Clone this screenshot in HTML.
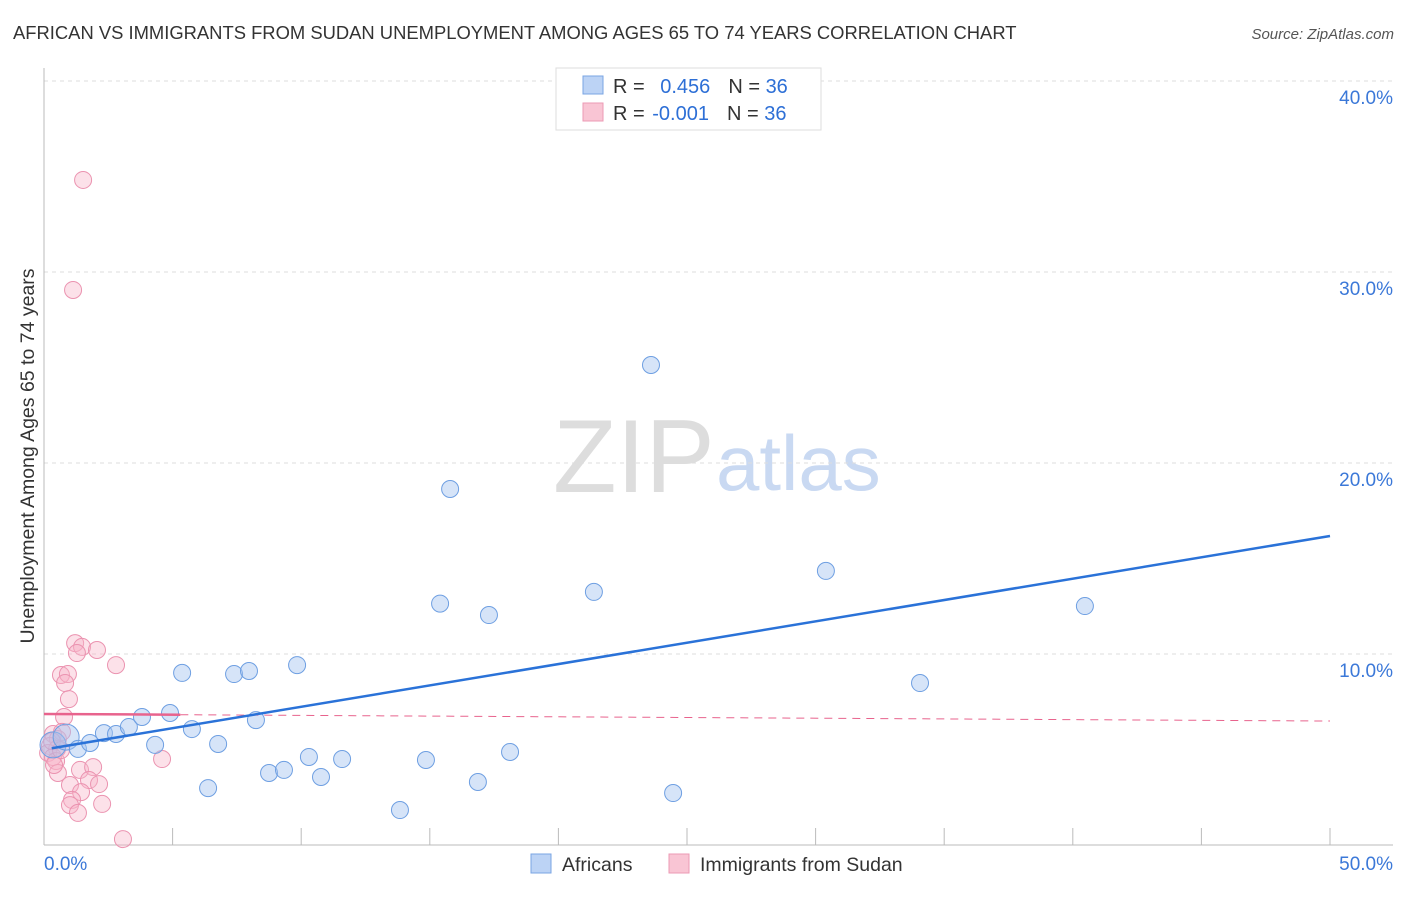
<!DOCTYPE html>
<html><head><meta charset="utf-8"><style>
body{margin:0;background:#fff;font-family:"Liberation Sans",sans-serif;}
svg text{font-family:"Liberation Sans",sans-serif;}
</style></head><body>
<svg id="c" width="1406" height="892">
<text x="13" y="39" font-size="18.4" fill="#333">AFRICAN VS IMMIGRANTS FROM SUDAN UNEMPLOYMENT AMONG AGES 65 TO 74 YEARS CORRELATION CHART</text>
<text x="1394" y="39" font-size="15" fill="#555" font-style="italic" text-anchor="end">Source: ZipAtlas.com</text>
<text x="34" y="456" font-size="19.5" fill="#333" text-anchor="middle" transform="rotate(-90 34 456)">Unemployment Among Ages 65 to 74 years</text>
<text x="553" y="492" font-size="104" fill="#ddd" font-family="Liberation Serif">ZIP</text>
<text x="716" y="490" font-size="78" fill="#c9d9f2">atlas</text>
<g id="axes"></g>
<g id="pts"></g>
<g id="legend">
<rect x="556" y="68" width="265" height="62" fill="#fff" stroke="#ddd"/>
<rect x="583" y="76" width="20" height="18" fill="#bcd3f5" stroke="#7aa5e3"/>
<rect x="583" y="103" width="20" height="18" fill="#f9c5d4" stroke="#ec9ab4"/>
<text x="613" y="93" font-size="20" fill="#333">R = <tspan fill="#2d6fd6" dx="10">0.456</tspan><tspan dx="18" fill="#333">N = </tspan><tspan fill="#2d6fd6">36</tspan></text>
<text x="613" y="120" font-size="20" fill="#333">R = <tspan fill="#2d6fd6" dx="2">-0.001</tspan><tspan dx="18" fill="#333">N = </tspan><tspan fill="#2d6fd6">36</tspan></text>
</g>
<g>
<rect x="531" y="854" width="20" height="19" fill="#bcd3f5" stroke="#7aa5e3"/>
<text x="562" y="871" font-size="19.5" fill="#333">Africans</text>
<rect x="669" y="854" width="20" height="19" fill="#f9c5d4" stroke="#ec9ab4"/>
<text x="700" y="871" font-size="19.5" fill="#333">Immigrants from Sudan</text>
</g>
</svg>
<script>
const blueX=[0.35,0.86,1.32,1.79,2.33,2.80,3.30,3.81,4.32,4.90,5.37,5.75,6.38,6.77,7.39,7.97,8.24,8.75,9.33,9.84,10.30,10.77,11.59,13.84,14.85,15.40,15.79,16.87,17.30,18.12,21.38,23.60,24.46,30.40,34.06,40.47];
const blueY=[5.24,5.65,5.03,5.34,5.86,5.81,6.18,6.70,5.24,6.91,9.01,6.07,2.98,5.29,8.95,9.11,6.54,3.77,3.93,9.42,4.61,3.56,4.50,1.83,4.45,12.64,18.64,3.30,12.04,4.87,13.25,25.13,2.72,14.35,8.48,12.51];
const pinkX=[1.52,1.13,1.21,1.48,1.28,2.06,2.80,0.66,0.93,0.82,0.97,0.78,0.35,0.54,0.23,0.51,0.16,0.35,0.47,0.54,4.59,1.40,1.91,1.75,2.14,1.01,1.44,1.09,1.01,2.26,1.32,3.07,0.70,0.31,0.66,0.39];
const pinkY=[34.82,29.06,10.57,10.37,10.05,10.21,9.42,8.90,8.95,8.48,7.64,6.70,5.81,5.55,5.18,5.03,4.82,4.61,4.40,3.77,4.50,3.93,4.08,3.40,3.19,3.14,2.77,2.36,2.09,2.15,1.68,0.31,5.92,5.44,4.97,4.19];
const blueTrend=[5.0,16.18];
const pinkTrend=[6.86,6.49];
const yTicks=[10,20,30,40];
const yTickLabels=["10.0%","20.0%","30.0%","40.0%"];
const xLabels=["0.0%","50.0%"];
const NS="http://www.w3.org/2000/svg";
const sx=v=>44+v*25.72, sy=v=>845-v*19.1;
function mk(t,a,p){const e=document.createElementNS(NS,t);for(const k in a)e.setAttribute(k,a[k]);p.appendChild(e);return e;}
const ax=document.getElementById('axes'), pts=document.getElementById('pts');
yTicks.forEach((t,i)=>{
 const g=mk('line',{x1:44,x2:1393,y1:sy(t),y2:sy(t),stroke:'#ddd','stroke-dasharray':'4,4'},ax);
 
 
 const l=mk('text',{x:1393,y:sy(t)+23,'font-size':19,fill:'#3b78d8','text-anchor':'end'},ax);l.textContent=yTickLabels[i];
 
 
});
const yl=mk('line',{x1:44,x2:44,y1:68,y2:845,stroke:'#bbb'},ax);


const xl=mk('line',{x1:44,x2:1393,y1:845,y2:845,stroke:'#bbb'},ax);


for(let v=5;v<=50;v+=5){const t=mk('line',{x1:sx(v),x2:sx(v),y1:828,y2:845,stroke:'#bbb'},ax);
 
 }
const xl0=mk('text',{x:44,y:870,'font-size':19,fill:'#3b78d8'},ax);xl0.textContent=xLabels[0];


const xl1=mk('text',{x:1393,y:870,'font-size':19,fill:'#3b78d8','text-anchor':'end'},ax);xl1.textContent=xLabels[1];


pinkX.forEach((x,i)=>{const c=mk('circle',{cx:sx(x),cy:sy(pinkY[i]),r:8.5,fill:'rgba(248,180,200,0.4)',stroke:'#eb93b0','stroke-width':1},pts);
 
 });
blueX.forEach((x,i)=>{const c=mk('circle',{cx:sx(x),cy:sy(blueY[i]),r:i<2?13:8.5,fill:'rgba(164,196,240,0.45)',stroke:'#6e9fe2','stroke-width':1},pts);
 
 });
const pt1=mk('line',{x1:sx(0),y1:sy(pinkTrend[0]),x2:sx(5.3),y2:sy(pinkTrend[0]+(pinkTrend[1]-pinkTrend[0])*5.3/50),stroke:'#e8638d','stroke-width':2.5},pts);


const pt2=mk('line',{x1:sx(5.3),y1:sy(pinkTrend[0]+(pinkTrend[1]-pinkTrend[0])*5.3/50),x2:sx(50),y2:sy(pinkTrend[1]),stroke:'#e8638d','stroke-width':1,'stroke-dasharray':'8,6'},pts);


const bt=mk('line',{x1:sx(0.3),y1:sy(blueTrend[0]+(blueTrend[1]-blueTrend[0])*0.3/50),x2:sx(50),y2:sy(blueTrend[1]),stroke:'#2a72d8','stroke-width':2.5},pts);


</script>
</body></html>
